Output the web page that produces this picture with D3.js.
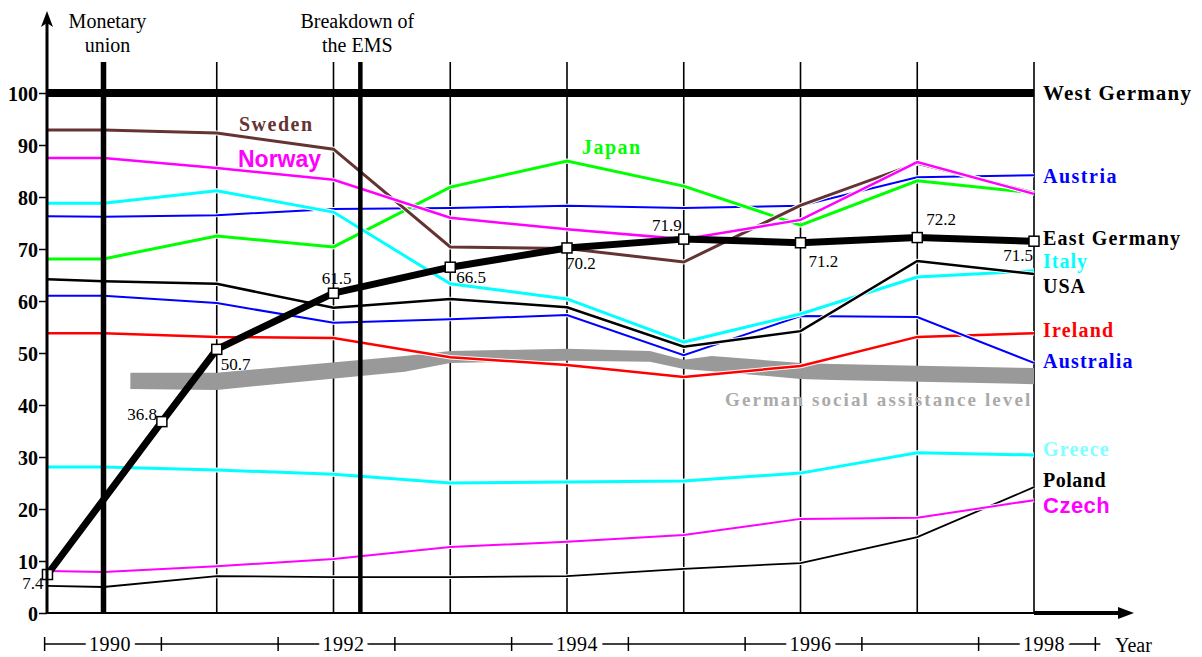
<!DOCTYPE html>
<html>
<head>
<meta charset="utf-8">
<script src="https://cdn.jsdelivr.net/npm/d3@7"></script>
<style>
    body { margin: 0; background: #fff; }
    svg { display: block; }
</style>
</head>
<body>
<svg id="wages"></svg>
<script>
// time positions (decimal years)
var countryYears = [1989.55, 1990.03, 1991, 1992, 1993, 1994, 1995, 1996, 1997, 1998]
var eastGermanyYears = [1989.55, 1990.53, 1991, 1992, 1993, 1994, 1995, 1996, 1997, 1998]
var westGermanyYears = [1989.55, 1998]

// wage level, West Germany = 100
var westGermany = [100, 100]
var eastGermany = [7.4, 36.8, 50.7, 61.5, 66.5, 70.2, 71.9, 71.2, 72.2, 71.5]
var sweden = [92.9, 92.9, 92.3, 89.2, 70.4, 70.1, 67.5, 78.4, 86.5, 80.8]
var norway = [87.5, 87.5, 85.6, 83.3, 76.0, 73.8, 71.9, 75.6, 86.7, 80.6]
var italy = [78.8, 78.8, 81.2, 77.1, 63.3, 60.4, 52.1, 57.5, 64.6, 65.8]
var austria = [76.3, 76.2, 76.5, 77.7, 77.9, 78.3, 77.9, 78.3, 83.8, 84.2]
var japan = [68.1, 68.1, 72.5, 70.4, 81.9, 86.9, 82.1, 74.6, 83.1, 80.8]
var usa = [64.2, 63.8, 63.3, 58.7, 60.4, 58.8, 51.2, 54.2, 67.7, 65.2]
var australia = [61.0, 61.0, 59.6, 55.8, 56.5, 57.3, 49.6, 57.1, 56.9, 48.1]
var ireland = [53.8, 53.8, 53.1, 52.9, 49.2, 47.7, 45.4, 47.5, 53.1, 53.8]
var greece = [28.1, 28.1, 27.5, 26.7, 25.0, 25.2, 25.4, 26.9, 30.8, 30.4]
var czech = [8.1, 7.9, 9.0, 10.4, 12.7, 13.7, 15.0, 18.1, 18.3, 21.7]
var poland = [5.2, 5.0, 7.1, 6.9, 6.9, 7.1, 8.5, 9.6, 14.6, 24.2]

// German social assistance level band
var assistanceYears = [1990.26, 1991, 1992.61, 1993, 1994, 1994.71, 1995, 1995.24, 1996, 1996.28, 1998]
var assistanceTop = [46.2, 46.2, 49.4, 50.4, 50.8, 50.4, 48.7, 49.4, 48.1, 47.9, 47.1]
var assistanceBottom = [43.1, 42.9, 46.4, 48.1, 48.5, 48.3, 46.9, 46.5, 45.0, 44.8, 44.0]

var yTicks = [0, 10, 20, 30, 40, 50, 60, 70, 80, 90, 100]
var gridYears = [1991, 1992, 1993, 1994, 1995, 1996, 1997, 1998]
var yearBoundaries = [1989.5, 1990.5, 1991.5, 1992.5, 1993.5, 1994.5, 1995.5, 1996.5, 1997.5, 1998.5]
var yearLabels = [1990, 1992, 1994, 1996, 1998]
var monetaryUnion = 1990.03
var emsBreakdown = 1992.23

var dimensions = {
    width: 1202,
    height: 657
}

var svg = d3.select("#wages")
    .attr("width", dimensions.width)
    .attr("height", dimensions.height)

var xScale = d3.scaleLinear()
    .domain([1990, 1998])
    .range([100, 1034])

var yScale = d3.scaleLinear()
    .domain([0, 100])
    .range([613, 93])

var serif = "'Liberation Serif', 'Times New Roman', serif"
var sans = "'Liberation Sans', Arial, sans-serif"

// vertical year grid lines
svg.append("g")
    .selectAll("line")
    .data(gridYears)
    .enter()
    .append("line")
    .attr("x1", d => xScale(d))
    .attr("x2", d => xScale(d))
    .attr("y1", 62)
    .attr("y2", yScale(0))
    .attr("stroke", "black")
    .attr("stroke-width", 1.6)

// social assistance band
var band = d3.area()
    .x((d, i) => xScale(assistanceYears[i]))
    .y0((d, i) => yScale(assistanceBottom[i]))
    .y1((d, i) => yScale(assistanceTop[i]))

svg.append("path")
    .datum(assistanceTop)
    .attr("d", band)
    .attr("fill", "#999999")

var series = [
    { name: "Poland", values: poland, color: "black", width: 1.8 },
    { name: "Czech", values: czech, color: "#ff00ff", width: 2 },
    { name: "Greece", values: greece, color: "#00ffff", width: 3 },
    { name: "Ireland", values: ireland, color: "#ff0000", width: 2.5 },
    { name: "Australia", values: australia, color: "#0000ff", width: 2 },
    { name: "Austria", values: austria, color: "#0000ff", width: 2 },
    { name: "Japan", values: japan, color: "#00ff00", width: 3 },
    { name: "Italy", values: italy, color: "#00ffff", width: 3 },
    { name: "USA", values: usa, color: "black", width: 2.5 },
    { name: "Sweden", values: sweden, color: "#663333", width: 3 },
    { name: "Norway", values: norway, color: "#ff00ff", width: 2.5 }
]

var countryLine = d3.line()
    .x((d, i) => xScale(countryYears[i]))
    .y(d => yScale(d))

var lines = svg.append("g")

series.forEach(function (s) {
    lines.append("path")
        .datum(s.values)
        .attr("d", countryLine)
        .attr("fill", "none")
        .attr("stroke", "white")
        .attr("stroke-width", s.width + 2)
    lines.append("path")
        .datum(s.values)
        .attr("d", countryLine)
        .attr("fill", "none")
        .attr("stroke", s.color)
        .attr("stroke-width", s.width)
})

// event lines
svg.append("line")
    .attr("x1", xScale(monetaryUnion))
    .attr("x2", xScale(monetaryUnion))
    .attr("y1", 62)
    .attr("y2", yScale(0))
    .attr("stroke", "black")
    .attr("stroke-width", 5.5)

svg.append("line")
    .attr("x1", xScale(emsBreakdown))
    .attr("x2", xScale(emsBreakdown))
    .attr("y1", 62)
    .attr("y2", yScale(0))
    .attr("stroke", "black")
    .attr("stroke-width", 4.5)

// West Germany
svg.append("path")
    .datum(westGermany)
    .attr("d", d3.line()
        .x((d, i) => xScale(westGermanyYears[i]))
        .y(d => yScale(d)))
    .attr("stroke", "black")
    .attr("stroke-width", 8)

// East Germany
var eastLine = d3.line()
    .x((d, i) => xScale(eastGermanyYears[i]))
    .y(d => yScale(d))

svg.append("path")
    .datum(eastGermany)
    .attr("d", eastLine)
    .attr("fill", "none")
    .attr("stroke", "black")
    .attr("stroke-width", 7)
    .attr("stroke-linejoin", "round")

svg.append("g")
    .selectAll("rect")
    .data(eastGermany)
    .enter()
    .append("rect")
    .attr("x", (d, i) => xScale(eastGermanyYears[i]) - 5)
    .attr("y", d => yScale(d) - 5)
    .attr("width", 10)
    .attr("height", 10)
    .attr("fill", "white")
    .attr("stroke", "black")
    .attr("stroke-width", 1.5)

// label placement next to each point: [dx, dy, anchor]
var eastLabelPos = [
    [-4, 14, "end"], [-5, -2, "end"], [4, 21, "start"], [3, -9, "middle"], [6, 16, "start"],
    [-1, 21, "start"], [-2, -8, "end"], [8, 24, "start"], [9, -13, "start"], [-1, 20, "end"]
]

svg.append("g")
    .selectAll("text")
    .data(eastGermany)
    .enter()
    .append("text")
    .attr("x", (d, i) => xScale(eastGermanyYears[i]) + eastLabelPos[i][0])
    .attr("y", (d, i) => yScale(d) + eastLabelPos[i][1])
    .attr("text-anchor", (d, i) => eastLabelPos[i][2])
    .style("font", "17px " + serif)
    .text(d => d3.format(".1f")(d))

// y axis
var yAxis = d3.axisLeft(yScale)
    .tickValues(yTicks)
    .tickSize(8)
    .tickPadding(1)

svg.append("g")
    .attr("class", "y-axis")
    .attr("transform", "translate(47,0)")
    .call(yAxis)
    .call(g => g.select(".domain").remove())
    .call(g => g.selectAll("line").attr("stroke-width", 1.5))
    .selectAll("text")
    .style("font", "bold 20px " + serif)
    .attr("dy", "0.35em")

svg.append("line")
    .attr("x1", 47).attr("x2", 47)
    .attr("y1", yScale(0) + 1).attr("y2", 22)
    .attr("stroke", "black")
    .attr("stroke-width", 3)

svg.append("path")
    .attr("d", "M41,27 L47,11 L53,27 L47,23 Z")
    .attr("fill", "black")

// x axis line and arrow
svg.append("line")
    .attr("x1", 47).attr("x2", xScale(1998))
    .attr("y1", yScale(0)).attr("y2", yScale(0))
    .attr("stroke", "black")
    .attr("stroke-width", 2)

svg.append("line")
    .attr("x1", xScale(1998)).attr("x2", 1124)
    .attr("y1", yScale(0)).attr("y2", yScale(0))
    .attr("stroke", "black")
    .attr("stroke-width", 4)

svg.append("path")
    .attr("d", "M1118,607 L1134,613 L1118,619 Z")
    .attr("fill", "black")

// year timeline under the chart
var timelineY = 644

svg.append("line")
    .attr("x1", xScale(yearBoundaries[0]) + 3)
    .attr("x2", xScale(yearBoundaries[yearBoundaries.length - 1]) + 8)
    .attr("y1", timelineY).attr("y2", timelineY)
    .attr("stroke", "black")
    .attr("stroke-width", 1.5)

svg.append("g")
    .selectAll("line")
    .data(yearBoundaries)
    .enter()
    .append("line")
    .attr("x1", d => xScale(d) + 3)
    .attr("x2", d => xScale(d) + 3)
    .attr("y1", timelineY - 7)
    .attr("y2", timelineY + 7)
    .attr("stroke", "black")
    .attr("stroke-width", 1.5)

svg.append("g")
    .selectAll("text")
    .data(yearLabels)
    .enter()
    .append("text")
    .attr("x", d => xScale(d) + 10)
    .attr("y", timelineY + 7)
    .attr("text-anchor", "middle")
    .attr("stroke", "white")
    .attr("stroke-width", 10)
    .attr("paint-order", "stroke")
    .style("font", "20px " + serif)
    .style("letter-spacing", "0.5px")
    .text(d => d)

svg.append("text")
    .attr("x", 1115)
    .attr("y", 652)
    .style("font", "20px " + serif)
    .text("Year")

// event annotations
function twoLines(x, lines1) {
    var t = svg.append("text")
        .attr("text-anchor", "middle")
        .style("font", "20px " + serif)
    lines1.forEach(function (l, i) {
        t.append("tspan")
            .attr("x", x)
            .attr("y", 28 + i * 24)
            .text(l)
    })
}
twoLines(xScale(monetaryUnion) + 4, ["Monetary", "union"])
twoLines(xScale(emsBreakdown) - 3, ["Breakdown of", "the EMS"])

// country labels at the right edge
var rightLabels = [
    { text: "West Germany", y: 100, color: "black", font: "bold 21px " + serif, ls: 1.2 },
    { text: "Austria", y: 183, color: "#0000ff", font: "bold 20px " + serif, ls: 1.5 },
    { text: "East Germany", y: 245, color: "black", font: "bold 20px " + serif, ls: 1.2 },
    { text: "Italy", y: 268, color: "#00ffff", font: "bold 20px " + serif, ls: 1 },
    { text: "USA", y: 293, color: "black", font: "bold 20px " + serif, ls: 1 },
    { text: "Ireland", y: 337, color: "#ff0000", font: "bold 20px " + serif, ls: 1.2 },
    { text: "Australia", y: 368, color: "#0000ff", font: "bold 20px " + serif, ls: 1.2 },
    { text: "Greece", y: 456, color: "#80ffff", font: "bold 20px " + serif, ls: 1.2 },
    { text: "Poland", y: 487, color: "black", font: "bold 20px " + serif, ls: 0.5 },
    { text: "Czech", y: 513, color: "#ff00ff", font: "bold 22px " + sans, ls: 0.5 }
]

svg.append("g")
    .selectAll("text")
    .data(rightLabels)
    .enter()
    .append("text")
    .attr("x", 1043)
    .attr("y", d => d.y)
    .attr("fill", d => d.color)
    .style("font", d => d.font)
    .style("letter-spacing", d => d.ls + "px")
    .text(d => d.text)

// labels inside the plot
svg.append("text")
    .attr("x", 239).attr("y", 131)
    .attr("fill", "#663333")
    .style("font", "bold 20px " + serif)
    .style("letter-spacing", "1.5px")
    .text("Sweden")

svg.append("text")
    .attr("x", 238).attr("y", 167)
    .attr("fill", "#ff00ff")
    .style("font", "bold 23px " + sans)
    .text("Norway")

svg.append("text")
    .attr("x", 582).attr("y", 154)
    .attr("fill", "#00ff00")
    .style("font", "bold 20px " + serif)
    .style("letter-spacing", "1.5px")
    .text("Japan")

svg.append("text")
    .attr("x", 725).attr("y", 406)
    .attr("fill", "#aaaaaa")
    .style("font", "bold 19px " + serif)
    .style("letter-spacing", "2.1px")
    .text("German social assistance level")
</script>
</body>
</html>
